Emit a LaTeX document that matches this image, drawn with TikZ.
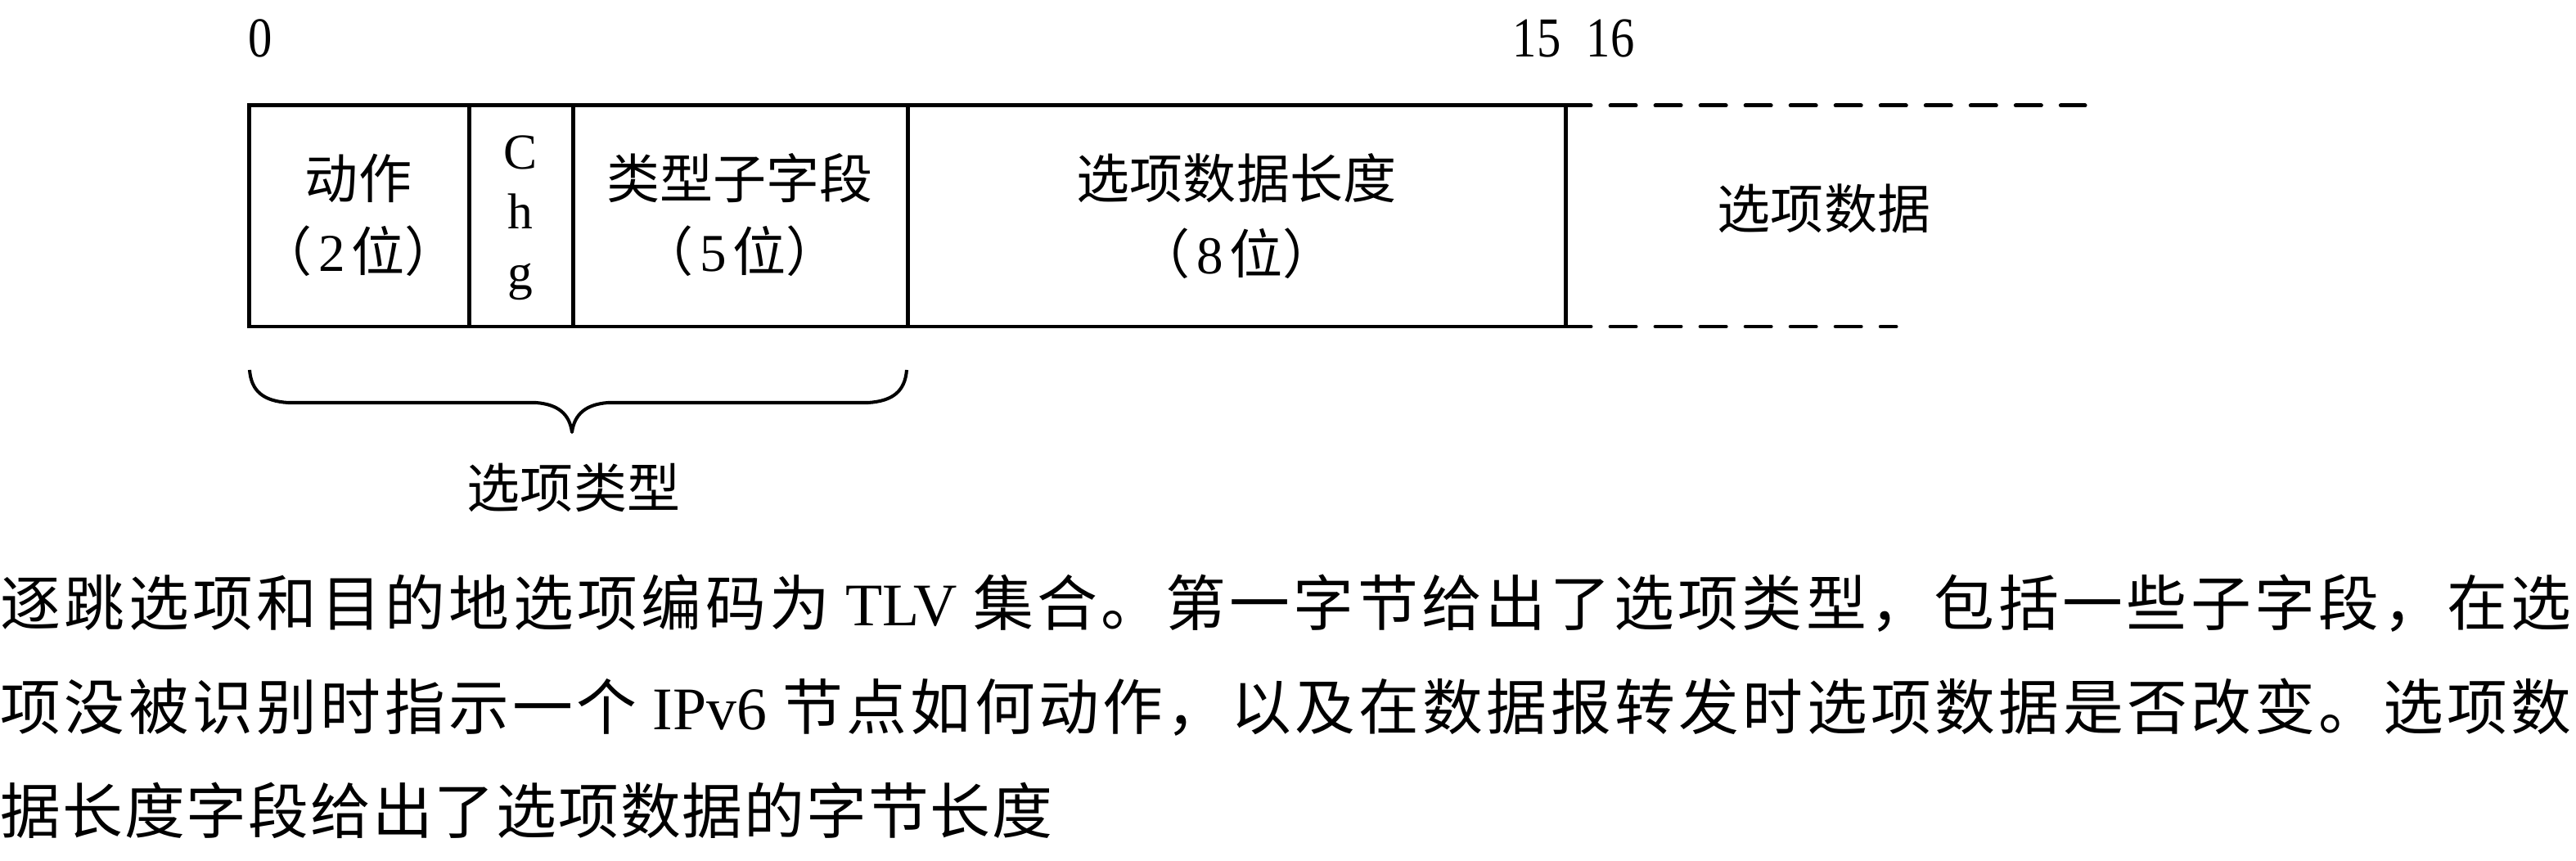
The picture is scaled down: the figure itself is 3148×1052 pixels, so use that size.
\documentclass[tikz,border=0pt]{standalone}
\usepackage{fontspec}
\usepackage{graphicx}
\setmainfont{Liberation Serif}
\newfontfamily\cjk{Noto Sans CJK SC}
\makeatletter
\def\spr#1{\spr@a#1\spr@end\unskip}
\def\spr@end{\spr@end@}
\def\spr@a#1{\ifx\spr@end#1\else#1\hfil\expandafter\spr@a\fi}
\makeatother
\def\txTLV{\kern0.2em{\rmfamily TLV}\kern0.2em}
\def\txIPv{\kern0.2em{\rmfamily IPv6}\kern0.2em}
\def\dg#1{\kern0.12em{\rmfamily #1}\kern0.12em}
\tikzset{
  boxline/.style={line width=1.42pt},
  dashline/.style={line width=1.42pt, line cap=round, dash pattern=on 0.31cm off 0.24cm},
  cell/.style={inner sep=0pt, anchor=base, font=\cjk\fontsize{18.5}{22}\selectfont},
  body/.style={inner sep=0pt, anchor=base west, font=\cjk\fontsize{21}{25}\selectfont},
  bitno/.style={inner sep=0pt, anchor=base, font=\fontsize{19.6}{22}\selectfont},
  chg/.style={inner sep=0pt, anchor=base, font=\fontsize{17.5}{20}\selectfont},
  bracepath/.style={line width=1.15pt, line join=round},
}
\begin{document}
\begin{tikzpicture}[x=0.01cm, y=-0.01cm]
\useasboundingbox (0,0) rectangle (3148,1052);
% bit numbers
\node[bitno] (b0) at (318,70) {\scalebox{0.85}[1]{0}};
\node[bitno] (b15) at (1878,70) {\scalebox{0.85}[1]{15}};
\node[bitno] (b16) at (1968,70) {\scalebox{0.85}[1]{16}};
% box corners
\coordinate (A0) at (304,129);
\coordinate (A1) at (573,129);
\coordinate (A2) at (700,129);
\coordinate (A3) at (1109,129);
\coordinate (A4) at (1913,129);
\coordinate (B0) at (304,399);
\coordinate (B1) at (573,399);
\coordinate (B2) at (700,399);
\coordinate (B3) at (1109,399);
\coordinate (B4) at (1913,399);
\coordinate (D1) at (2548,129);
\coordinate (D2) at (2317,399);
\draw[boxline] (A0) -- (A4) -- (B4) -- (B0) -- cycle;
\draw[boxline] (A1) -- (B1);
\draw[boxline] (A2) -- (B2);
\draw[boxline] (A3) -- (B3);
\draw[dashline] (A4) -- (D1);
\draw[dashline] (B4) -- (D2);
% cell texts
\node[cell] (act) at (438,243) {动作};
\node[cell] (actb) at (438,332) {（\dg{2}位）};
\node[chg] (c1) at (636,207) {C};
\node[chg] (c2) at (636,280) {h};
\node[chg] (c3) at (636,354) {g};
\node[cell] (sub) at (904,243) {类型子字段};
\node[cell] (subb) at (904,332) {（\dg{5}位）};
\node[cell] (len) at (1511,243) {选项数据长度};
\node[cell] (lenb) at (1511,335) {（\dg{8}位）};
\node[cell] (dat) at (2229,280) {选项数据};
% brace
\coordinate (brL) at (305,452);
\coordinate (brT) at (699,528);
\coordinate (brR) at (1108,452);
\draw[bracepath] (brL) .. controls (307,478) and (322,490) .. (352,492) -- (655,492)
  .. controls (682,494) and (696,506) .. (brT)
  .. controls (702,506) and (716,494) .. (743,492) -- (1061,492)
  .. controls (1091,490) and (1106,478) .. (brR);
\node[cell] (otype) at (701,620) {选项类型};
% body text
\node[body] (t1) at (0,764) {\hbox to 31.40cm{\spr{逐跳选项和目的地选项编码为\txTLV 集合。第一字节给出了选项类型，包括一些子字段，在选}}};
\node[body] (t2) at (0,891) {\hbox to 31.40cm{\spr{项没被识别时指示一个\txIPv 节点如何动作，以及在数据报转发时选项数据是否改变。选项数}}};
\node[body] (t3) at (0,1018) {\hbox to 12.85cm{\spr{据长度字段给出了选项数据的字节长度}}};
\end{tikzpicture}
\end{document}
